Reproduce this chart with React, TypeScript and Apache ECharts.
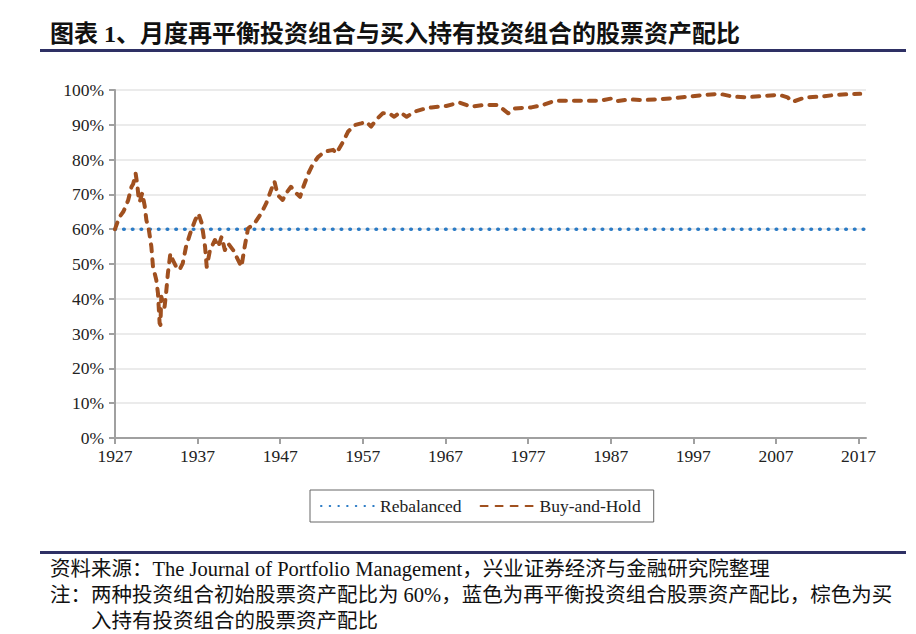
import React, { useEffect, useRef } from "react";
import * as echarts from "echarts";

const titleText = "图表 1、月度再平衡投资组合与买入持有投资组合的股票资产配比";
const sourceText = "资料来源：The Journal of Portfolio Management，兴业证券经济与金融研究院整理";
const noteLine1 = "注：两种投资组合初始股票资产配比为 60%，蓝色为再平衡投资组合股票资产配比，棕色为买";
const noteLine2 = "入持有投资组合的股票资产配比";

const seriesNames = ["Rebalanced", "Buy-and-Hold"];
const xTickYears = [1927, 1937, 1947, 1957, 1967, 1977, 1987, 1997, 2007, 2017];

const rebalancedYears = [1927, 2017.9];
const rebalancedValues = [60, 60];

const buyHoldYears = [
  1927.0, 1927.3, 1927.6, 1928.0, 1928.3, 1928.6, 1929.0, 1929.2, 1929.5, 1929.7,
  1929.9, 1930.0, 1930.3, 1930.6, 1930.8, 1931.1, 1931.4, 1931.6, 1932.0, 1932.2,
  1932.4, 1932.5, 1932.6, 1933.0, 1933.2, 1933.4, 1933.7, 1934.0, 1934.4, 1934.8,
  1935.2, 1935.6, 1936.1, 1936.7, 1937.1, 1937.5, 1937.9, 1938.1, 1938.5, 1939.1,
  1939.5, 1939.9, 1940.3, 1940.7, 1941.3, 1941.7, 1942.3, 1942.7, 1943.1, 1943.9,
  1944.7, 1945.3, 1945.9, 1946.3, 1946.7, 1947.3, 1947.7, 1948.3, 1948.7, 1949.4,
  1949.8, 1950.4, 1951.0, 1951.6, 1952.4, 1953.4, 1953.8, 1954.6, 1955.2, 1956.0,
  1956.8, 1957.4, 1958.0, 1958.6, 1959.4, 1960.2, 1960.8, 1961.5, 1962.3, 1963.3,
  1964.3, 1965.3, 1967.1, 1968.7, 1970.1, 1971.7, 1973.3, 1974.6, 1975.4, 1977.4,
  1978.8, 1980.2, 1982.0, 1983.8, 1985.6, 1987.2, 1987.8, 1989.3, 1990.9, 1992.5,
  1994.5, 1996.5, 1998.3, 2000.2, 2001.8, 2003.4, 2005.6, 2007.4, 2008.4, 2009.0,
  2010.6, 2012.4, 2014.2, 2015.8, 2017.2,
];
const buyHoldValues = [
  60.0, 62.0, 63.7, 65.0, 66.5, 68.4, 72.2, 73.0, 76.0, 72.7,
  68.0, 67.9, 70.4, 66.6, 62.6, 59.8, 55.0, 49.2, 45.4, 41.6,
  33.0, 32.5, 40.6, 37.7, 42.0, 47.3, 53.0, 51.1, 49.2, 48.3,
  50.2, 55.0, 58.8, 62.6, 64.5, 61.7, 55.0, 49.2, 54.0, 56.9,
  55.0, 57.8, 54.0, 55.9, 54.0, 52.1, 49.2, 55.0, 60.2, 61.7,
  64.6, 67.4, 71.3, 73.7, 69.8, 68.4, 70.3, 72.2, 70.9, 69.3,
  72.2, 76.0, 78.9, 80.8, 82.3, 82.8, 81.8, 85.1, 88.0, 89.9,
  90.4, 90.9, 89.5, 91.4, 93.3, 93.3, 92.3, 93.6, 92.3, 93.8,
  94.5, 95.0, 95.4, 96.4, 95.2, 95.7, 95.7, 93.3, 94.7, 95.0,
  95.7, 96.9, 96.9, 96.9, 96.9, 97.6, 96.8, 97.3, 97.1, 97.3,
  97.6, 98.1, 98.6, 98.9, 98.1, 97.9, 98.3, 98.6, 97.9, 96.6,
  97.9, 98.1, 98.6, 98.8, 98.9,
];

const SERIF = "'Liberation Serif', 'Times New Roman', serif";
const MIXED = "'Liberation Serif', 'Noto Sans CJK SC', serif";

export default function App() {
  const ref = useRef<HTMLDivElement>(null);

  useEffect(() => {
    document.body.style.margin = "0";
    if (!ref.current) return;
    const chart = echarts.init(ref.current, null, { renderer: "svg" });

    const rebalData = rebalancedYears.map((y, i) => [y, rebalancedValues[i]]);
    const bhData = buyHoldYears.map((y, i) => [y, buyHoldValues[i]]);

    chart.setOption({
      animation: false,
      backgroundColor: "#ffffff",
      grid: { left: 115, right: 50, top: 90, bottom: 196, containLabel: false },
      xAxis: {
        type: "value",
        min: 1927,
        max: 2017.9,
        interval: 10,
        splitLine: { show: false },
        axisLine: { show: true, lineStyle: { color: "#a0a0a0", width: 2 } },
        axisTick: {
          show: true,
          inside: false,
          length: 6,
          customValues: xTickYears,
          lineStyle: { color: "#a0a0a0", width: 2 },
        },
        axisLabel: {
          customValues: xTickYears,
          formatter: (v: number) => String(Math.round(v)),
          margin: 9,
          fontFamily: SERIF,
          fontSize: 17.5,
          color: "#222",
        },
      },
      yAxis: {
        type: "value",
        min: 0,
        max: 100,
        interval: 10,
        axisLine: { show: true, lineStyle: { color: "#a0a0a0", width: 2 } },
        axisTick: { show: true, inside: false, length: 6, lineStyle: { color: "#a0a0a0", width: 2 } },
        splitLine: { show: true, lineStyle: { color: "#e4e4e4", width: 1.5 } },
        axisLabel: {
          formatter: "{value}%",
          margin: 11,
          fontFamily: SERIF,
          fontSize: 17.5,
          color: "#222",
        },
      },
      legend: {
        data: seriesNames,
        left: 310,
        top: 490,
        orient: "horizontal",
        itemWidth: 54,
        itemHeight: 14,
        itemGap: 18,
        padding: [7, 13, 7, 10],
        borderColor: "#666",
        borderWidth: 1,
        borderRadius: 0,
        itemStyle: { opacity: 0 },
        textStyle: { fontFamily: SERIF, fontSize: 17.5, color: "#222" },
      },
      series: [
        {
          name: seriesNames[0],
          type: "line",
          data: rebalData,
          symbol: "none",
          showSymbol: false,
          lineStyle: { color: "#2b7bc5", width: 3.6, type: [0.5, 8.2], cap: "round" },
          itemStyle: { color: "#2b7bc5" },
        },
        {
          name: seriesNames[1],
          type: "line",
          data: bhData,
          symbol: "none",
          showSymbol: false,
          lineStyle: { color: "#a0501f", width: 4, type: [7, 8], cap: "round", join: "round" },
          itemStyle: { color: "#a0501f" },
        },
      ],
      graphic: [
        {
          type: "text",
          x: 50,
          y: 34,
          style: {
            text: titleText,
            fontFamily: MIXED,
            fontWeight: "bold",
            fontSize: 24,
            fill: "#111",
            verticalAlign: "middle",
          },
        },
        {
          type: "rect",
          shape: { x: 40, y: 49, width: 866, height: 3 },
          style: { fill: "#2e3064" },
        },
        {
          type: "rect",
          shape: { x: 40, y: 551, width: 866, height: 3 },
          style: { fill: "#2e3064" },
        },
        {
          type: "text",
          x: 50,
          y: 569,
          style: { text: sourceText, fontFamily: MIXED, fontSize: 20.5, fill: "#111", verticalAlign: "middle" },
        },
        {
          type: "text",
          x: 50,
          y: 595,
          style: { text: noteLine1, fontFamily: MIXED, fontSize: 20.5, fill: "#111", verticalAlign: "middle" },
        },
        {
          type: "text",
          x: 91,
          y: 621,
          style: { text: noteLine2, fontFamily: MIXED, fontSize: 20.5, fill: "#111", verticalAlign: "middle" },
        },
      ],
    });

    return () => {
      chart.dispose();
    };
  }, []);

  return <div ref={ref} style={{ width: 916, height: 634 }} />;
}
